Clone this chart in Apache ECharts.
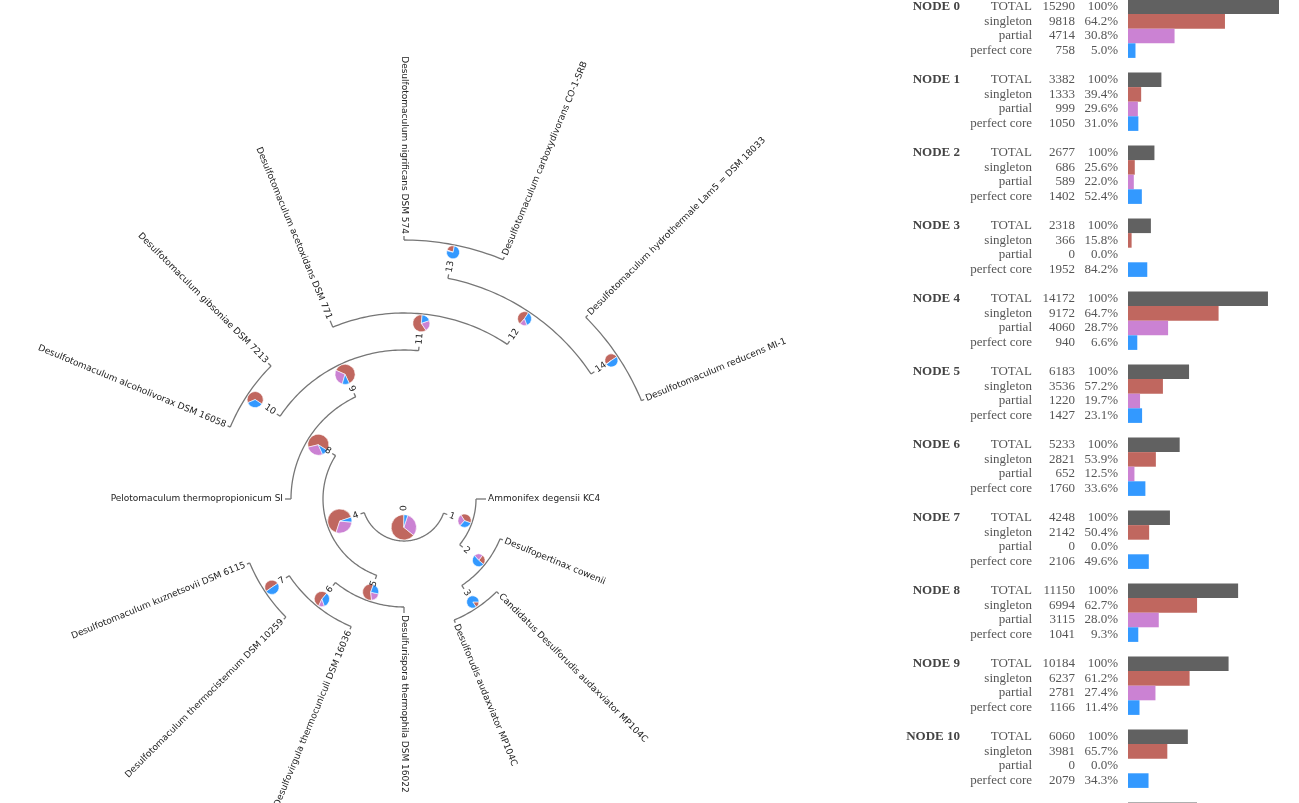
<!DOCTYPE html>
<html><head><meta charset="utf-8">
<script src="https://cdn.jsdelivr.net/npm/echarts@6/dist/echarts.min.js"></script>
<style>html,body{margin:0;padding:0;background:#fff}#c{width:1299px;height:803px}</style>
</head><body><div id="c"></div>
<script>
// ---------- tree data ----------
const leafNames = [
  'Ammonifex degensii KC4',
  'Desulfopertinax cowenii',
  'Candidatus Desulforudis audaxviator MP104C',
  'Desulforudis audaxviator MP104C',
  'Desulfurispora thermophila DSM 16022',
  'Desulfovirgula thermocuniculi DSM 16036',
  'Desulfotomaculum thermocisternum DSM 10259',
  'Desulfotomaculum kuznetsovii DSM 6115',
  'Pelotomaculum thermopropionicum SI',
  'Desulfotomaculum alcoholivorax DSM 16058',
  'Desulfotomaculum gibsoniae DSM 7213',
  'Desulfotomaculum acetoxidans DSM 771',
  'Desulfotomaculum nigrificans DSM 574',
  'Desulfotomaculum carboxydivorans CO-1-SRB',
  'Desulfotomaculum hydrothermale Lam5 = DSM 18033',
  'Desulfotomaculum reducens MI-1'
];
const leafParent = [1,2,3,3,5,6,7,7,8,10,10,11,13,13,14,14];
const leafBranch = [10,3,3,3,6,3,3,3,6,3,4,7,4,3,3,3];
const nodeParent = [-1,0,1,2,0,4,5,6,4,8,9,9,11,12,12];
const nodeDepth  = [42,72,104,131,81,108,138,167,113,149,188,186,225,259,257];

// ---------- per-node gene counts ----------
const nodeTotal     = [15290,3382,2677,2318,14172,6183,5233,4248,11150,10184,6060,6990,4000,3000,3100];
const nodeSingleton = [9818,1333,686,366,9172,3536,2821,2142,6994,6237,3981,4260,1920,660,1560];
const nodePartial   = [4714,999,589,0,4060,1220,652,0,3115,2781,0,1470,680,60,30];
const nodeCore      = [758,1050,1402,1952,940,1427,1760,2106,1041,1166,2079,1260,1400,2280,1510];
const pctSingleton  = ['64.2','39.4','25.6','15.8','64.7','57.2','53.9','50.4','62.7','61.2','65.7','60.9','48.0','22.0','50.3'];
const pctPartial    = ['30.8','29.6','22.0','0.0','28.7','19.7','12.5','0.0','28.0','27.4','0.0','21.0','17.0','2.0','1.0'];
const pctCore       = ['5.0','31.0','52.4','84.2','6.6','23.1','33.6','49.6','9.3','11.4','34.3','18.1','35.0','76.0','48.7'];
const rowNames = ['TOTAL','singleton','partial','perfect core'];

// ---------- styles ----------
const C_TOTAL='#616161', C_SING='#c0675f', C_PART='#cb82d3', C_CORE='#3399ff';
const LINE='#767676';
const TREE_FONT='DejaVu Sans';
const TABLE_FONT='Liberation Serif';

// ---------- layout derivation ----------
const N = nodeParent.length, L = leafNames.length;
const kids = Array.from({length:N},()=>[]);
leafParent.forEach((p,i)=>kids[p].push({leaf:true,i}));
nodeParent.forEach((p,i)=>{ if(p>=0) kids[p].push({leaf:false,i}); });
const leafAngle = leafNames.map((_,i)=> i*360/L);
const nodeAngle = new Array(N).fill(null);
function ang(n){
  if(nodeAngle[n]!==null) return nodeAngle[n];
  const as = kids[n].map(c=>c.leaf?leafAngle[c.i]:ang(c.i));
  nodeAngle[n]=(Math.min(...as)+Math.max(...as))/2;
  return nodeAngle[n];
}
for(let n=0;n<N;n++) ang(n);
const pieR = nodeTotal.map(t=>(10+t/1000)/2);
const TICK=4;

const arcData=[], tickData=[], pieData=[], nodeLblData=[], leafLblData=[];
for(let n=0;n<N;n++){
  const as = kids[n].map(c=>c.leaf?leafAngle[c.i]:nodeAngle[c.i]);
  arcData.push([nodeDepth[n], Math.min(...as), Math.max(...as)]);
  const rp = nodeParent[n]>=0 ? nodeDepth[nodeParent[n]] : 0;
  if(nodeParent[n]>=0) tickData.push([rp, nodeAngle[n], rp+TICK]);
  const digits = String(n).length;
  nodeLblData.push([rp+TICK+2+3*digits, nodeAngle[n], n]);
  pieData.push([nodeDepth[n]-pieR[n]-1, nodeAngle[n], n]);
}
for(let i=0;i<L;i++){
  const rp = nodeDepth[leafParent[i]];
  tickData.push([rp, leafAngle[i], rp+leafBranch[i]]);
  leafLblData.push([rp+leafBranch[i]+2, leafAngle[i], i]);
}
function flipped(a){ return a>90 && a<=270; }
function rot(a){ return -(flipped(a)?a-180:a)*Math.PI/180; }

// ---------- table rows ----------
const rowKeys=[], rowBars=[], rowLabels=[];
for(let g=0; g<N; g++){
  const vals=[nodeTotal[g],nodeSingleton[g],nodePartial[g],nodeCore[g]];
  const pcts=['100',pctSingleton[g],pctPartial[g],pctCore[g]];
  const cols=[C_TOTAL,C_SING,C_PART,C_CORE];
  for(let k=0;k<4;k++){
    rowKeys.push('r'+g+'_'+k);
    rowBars.push({value:vals[k], itemStyle:{color:cols[k]}});
    rowLabels.push('{n|'+(k===0?'NODE '+g:' ')+'}{k|'+rowNames[k]+'}{v|'+vals[k]+'}{p|'+pcts[k]+'%}');
  }
  rowKeys.push('gap'+g); rowBars.push('-'); rowLabels.push('');
}
const ROW_H = 14.6;

const chart = echarts.init(document.getElementById('c'), null, {renderer:'canvas'});
const tStyle = {fontFamily:TABLE_FONT, fontSize:13, color:'#555', align:'right'};
chart.setOption({
  animation:false,
  polar:{center:[404,499], radius:400},
  angleAxis:{type:'value', min:0, max:360, startAngle:0, clockwise:true, show:false},
  radiusAxis:{type:'value', min:0, max:400, show:false},
  grid:{left:1128, top:-0.5, width:151, height:ROW_H*rowKeys.length, containLabel:false, outerBoundsMode:'none'},
  xAxis:{type:'value', min:0, max:nodeTotal[0], show:false},
  yAxis:{type:'category', data:rowKeys, inverse:true,
    axisLine:{show:false}, axisTick:{show:false}, splitLine:{show:false},
    axisLabel:{interval:0, margin:10, hideOverlap:false, formatter:(v,idx)=>rowLabels[idx],
      rich:{
        n:Object.assign({},tStyle,{width:60, fontWeight:'bold', color:'#444'}),
        k:Object.assign({},tStyle,{width:72}),
        v:Object.assign({},tStyle,{width:43}),
        p:Object.assign({},tStyle,{width:43})
      }}},
  series:[
    {type:'bar', xAxisIndex:0, yAxisIndex:0, data:rowBars, barCategoryGap:'0%', silent:true},
    {type:'custom', coordinateSystem:'polar', data:arcData, silent:true,
      encode:{radius:0, angle:1},
      renderItem:(p,api)=>{
        const R=api.value(0), a0=api.value(1), a1=api.value(2);
        const steps=Math.max(2,Math.ceil((a1-a0)));
        const pts=[];
        for(let s=0;s<=steps;s++) pts.push(api.coord([R, a0+(a1-a0)*s/steps]));
        return {type:'polyline', shape:{points:pts}, style:{stroke:LINE, lineWidth:1.3, fill:null}};
      }},
    {type:'custom', coordinateSystem:'polar', data:tickData, silent:true,
      encode:{radius:0, angle:1},
      renderItem:(p,api)=>{
        const a=api.value(1);
        const p0=api.coord([api.value(0),a]), p1=api.coord([api.value(2),a]);
        return {type:'line', shape:{x1:p0[0],y1:p0[1],x2:p1[0],y2:p1[1]}, style:{stroke:LINE, lineWidth:1.3}};
      }},
    {type:'custom', coordinateSystem:'polar', data:pieData, silent:true,
      encode:{radius:0, angle:1},
      renderItem:(p,api)=>{
        const a=api.value(1), n=api.value(2);
        const c=api.coord([api.value(0),a]);
        const start = flipped(a)? a+180 : a;
        const vals=[nodeSingleton[n],nodePartial[n],nodeCore[n]];
        const cols=[C_SING,C_PART,C_CORE];
        const tot=vals[0]+vals[1]+vals[2];
        let cum=0; const ch=[];
        vals.forEach((v,k)=>{
          if(v<=0) return;
          const c0=cum, c1=cum+v/tot*360; cum=c1;
          ch.push({type:'sector', shape:{cx:c[0], cy:c[1], r0:0, r:pieR[n],
            startAngle:(start-c1)*Math.PI/180, endAngle:(start-c0)*Math.PI/180, clockwise:true},
            style:{fill:cols[k], stroke:'#fff', lineWidth:0.6}});
        });
        return {type:'group', children:ch};
      }},
    {type:'custom', coordinateSystem:'polar', data:nodeLblData, silent:true,
      encode:{radius:0, angle:1},
      renderItem:(p,api)=>{
        const a=api.value(1);
        const c=api.coord([api.value(0),a]);
        return {type:'text', x:c[0], y:c[1], rotation:rot(a),
          style:{text:String(api.value(2)), x:0, y:0, align:'center', verticalAlign:'middle',
            fill:'#222', fontSize:9, fontFamily:TREE_FONT}};
      }},
    {type:'custom', coordinateSystem:'polar', data:leafLblData, silent:true,
      encode:{radius:0, angle:1},
      renderItem:(p,api)=>{
        const a=api.value(1);
        const c=api.coord([api.value(0),a]);
        return {type:'text', x:c[0], y:c[1], rotation:rot(a),
          style:{text:leafNames[api.value(2)], x:0, y:0, align:flipped(a)?'right':'left', verticalAlign:'middle',
            fill:'#222', fontSize:9, fontFamily:TREE_FONT}};
      }}
  ]
});
</script></body></html>
